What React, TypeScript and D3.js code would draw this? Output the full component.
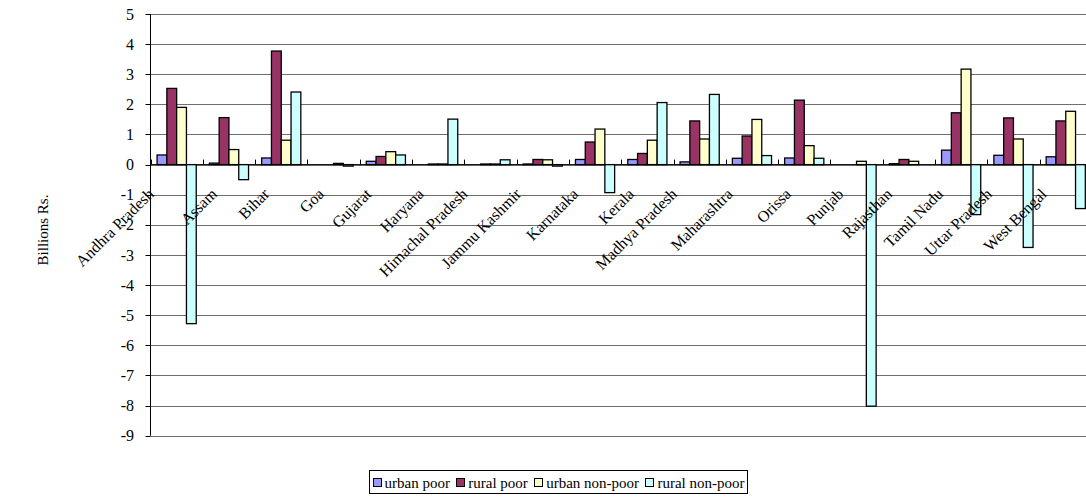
import React from "react";
import * as d3 from "d3";

// States on the category axis
const categories = [
  "Andhra Pradesh", "Assam", "Bihar", "Goa", "Gujarat", "Haryana",
  "Himachal Pradesh", "Jammu Kashmir", "Karnataka", "Kerala", "Madhya Pradesh",
  "Maharashtra", "Orissa", "Punjab", "Rajasthan", "Tamil Nadu", "Uttar Pradesh", "West Bengal",
];

// Values in billions of rupees, one per state
const urbanPoor = [0.32, 0.05, 0.22, 0, 0.11, 0, 0, 0.02, 0.17, 0.17, 0.09, 0.21, 0.22, 0, 0.03, 0.48, 0.31, 0.26];
const ruralPoor = [2.53, 1.56, 3.77, 0, 0.27, 0.02, 0.02, 0.17, 0.75, 0.37, 1.45, 0.95, 2.14, 0, 0.17, 1.72, 1.55, 1.45];
const urbanNonPoor = [1.9, 0.5, 0.81, 0.04, 0.43, 0.02, 0.02, 0.16, 1.18, 0.81, 0.85, 1.5, 0.63, 0.11, 0.11, 3.17, 0.85, 1.77];
const ruralNonPoor = [-5.28, -0.5, 2.41, -0.05, 0.32, 1.51, 0.16, -0.05, -0.93, 2.06, 2.33, 0.3, 0.21, -8.02, 0, -1.66, -2.75, -1.46];

const seriesNames = ["urban poor", "rural poor", "urban non-poor", "rural non-poor"];
const seriesValues = [urbanPoor, ruralPoor, urbanNonPoor, ruralNonPoor];
const seriesColors = ["#9999FF", "#993366", "#FFFFCC", "#CCFFFF"];

const yTicks = [5, 4, 3, 2, 1, 0, -1, -2, -3, -4, -5, -6, -7, -8, -9];
const yTitle = "Billions Rs.";

const W = 1086;
const H = 504;
const FONT = "'Liberation Serif', 'Times New Roman', serif";
const FS = 16;
const LEGEND_FS = 15;

// Approximate Times/Liberation Serif advance widths (em units) for legend layout
const ADV: Record<string, number> = {
  u: 0.5, r: 0.333, b: 0.5, a: 0.444, n: 0.5, " ": 0.25, p: 0.5, o: 0.5, l: 0.278, "-": 0.333,
};
function textWidth(s: string, size: number): number {
  let w = 0;
  for (const ch of s) w += ADV[ch] ?? 0.5;
  return w * size;
}

export default function App() {
  const left = 150.5;
  const step = 52.3;
  const x0 = d3
    .scaleBand<string>()
    .domain(categories)
    .range([left, left + step * categories.length])
    .padding(0);
  const x1 = d3
    .scaleBand<string>()
    .domain(seriesNames)
    .range([0, x0.bandwidth()])
    .paddingInner(0)
    .paddingOuter(0.67);
  const y = d3.scaleLinear().domain([-9, 5]).range([435.7, 14]);
  const zeroY = y(0);
  const right = left + step * categories.length;

  // legend row layout: swatch, text, gap
  const legX0 = 369.5;
  const legW = 378;
  const sw = 8;
  const itemWidths = seriesNames.map((s) => sw + 4 + textWidth(s, LEGEND_FS));
  const totalItems = d3.sum(itemWidths);
  const gap = (legW - 6 - totalItems) / (seriesNames.length - 1);
  const legendX: number[] = [];
  let cur = legX0 + 3;
  itemWidths.forEach((w) => {
    legendX.push(cur);
    cur += w + gap;
  });

  return (
    <svg
      width={W}
      height={H}
      style={{ position: "absolute", left: 0, top: 0, background: "#fff" }}
      fontFamily={FONT}
    >
      <defs>
        <clipPath id="page">
          <rect x={0} y={0} width={W} height={H} />
        </clipPath>
      </defs>
      <g clipPath="url(#page)">
        {/* gridlines */}
        {yTicks.map((t) => (
          <line
            key={"g" + t}
            x1={left}
            x2={right}
            y1={Math.round(y(t)) + 0.5}
            y2={Math.round(y(t)) + 0.5}
            stroke="#6e6e6e"
            strokeWidth={1}
          />
        ))}

        {/* bars */}
        {categories.map((c, i) => (
          <g key={c} transform={`translate(${x0(c)},0)`}>
            {seriesNames.map((s, k) => {
              const v = seriesValues[k][i];
              if (v === 0) return null;
              const yTop = Math.min(y(v), zeroY);
              const h = Math.abs(y(v) - zeroY);
              return (
                <rect
                  key={s}
                  x={x1(s)}
                  y={yTop}
                  width={x1.bandwidth()}
                  height={h}
                  fill={seriesColors[k]}
                  stroke="#000"
                  strokeWidth={1.3}
                />
              );
            })}
          </g>
        ))}

        {/* category axis at zero */}
        <line x1={left} x2={right} y1={zeroY} y2={zeroY} stroke="#000" strokeWidth={1} />
        {d3.range(categories.length + 1).map((i) => {
          const xt = Math.round(left + step * i) + 0.5;
          return <line key={"ct" + i} x1={xt} x2={xt} y1={zeroY - 5} y2={zeroY} stroke="#000" />;
        })}

        {/* value axis */}
        <line x1={left} x2={left} y1={y(5)} y2={y(-9)} stroke="#000" strokeWidth={1} />
        {yTicks.map((t) => (
          <g key={"t" + t}>
            <line
              x1={left - 5}
              x2={left}
              y1={Math.round(y(t)) + 0.5}
              y2={Math.round(y(t)) + 0.5}
              stroke="#000"
            />
            <text
              x={134}
              y={y(t)}
              dy="0.35em"
              textAnchor="end"
              fontSize={FS}
              fill="#000"
            >
              {t}
            </text>
          </g>
        ))}

        {/* rotated category labels */}
        {categories.map((c) => {
          const cx = (x0(c) as number) + x0.bandwidth() / 2;
          const shift = Math.min(27, 10 + 1.2 * c.length);
          const ax = cx - shift + 5;
          const ay = 195;
          return (
            <text
              key={"l" + c}
              x={ax}
              y={ay}
              textAnchor="end"
              fontSize={FS}
              transform={`rotate(-45 ${ax} ${ay})`}
              fill="#000"
            >
              {c}
            </text>
          );
        })}

        {/* axis title */}
        <text
          x={0}
          y={0}
          transform={`translate(48,230) rotate(-90)`}
          textAnchor="middle"
          fontSize={15}
          fill="#000"
        >
          {yTitle}
        </text>

        {/* legend */}
        <rect x={legX0} y={470.5} width={legW} height={23} fill="#fff" stroke="#000" strokeWidth={1} />
        {seriesNames.map((s, k) => (
          <g key={"lg" + s}>
            <rect
              x={Math.round(legendX[k]) + 0.5}
              y={478.5}
              width={sw}
              height={sw}
              fill={seriesColors[k]}
              stroke="#000"
              strokeWidth={1}
            />
            <text x={legendX[k] + sw + 4} y={487.5} fontSize={LEGEND_FS} fill="#000">
              {s}
            </text>
          </g>
        ))}
      </g>
    </svg>
  );
}
